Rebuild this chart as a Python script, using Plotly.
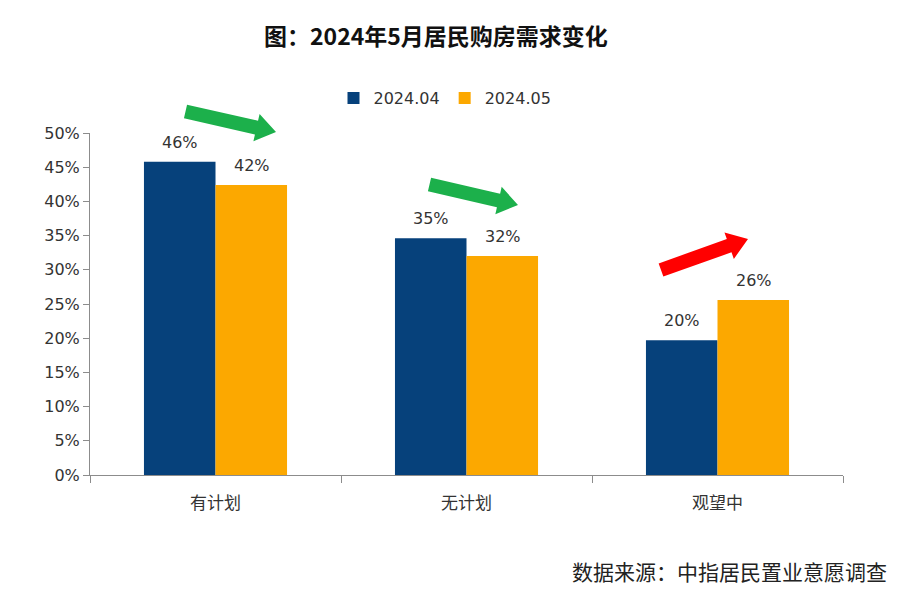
import math
import plotly.graph_objects as go

categories = ["有计划", "无计划", "观望中"]
series_names = ["2024.04", "2024.05"]
values_0404 = [45.8, 34.6, 19.7]
values_0405 = [42.4, 32.0, 25.6]
labels_0404 = ["46%", "35%", "20%"]
labels_0405 = ["42%", "32%", "26%"]
y_ticks = [0, 5, 10, 15, 20, 25, 30, 35, 40, 45, 50]
y_tick_text = ["0%", "5%", "10%", "15%", "20%", "25%", "30%", "35%", "40%", "45%", "50%"]

BLUE = "#06417B"
ORANGE = "#FCA800"
FONT = "Noto Sans CJK SC"
NUMFONT = "DejaVu Sans, Noto Sans CJK SC"

OFF = 8  # page body margin
W, H = 901 - OFF, 594 - OFF
L, T = 90 - OFF, 133 - OFF
PW, PH = 843 - 90, 475 - 133
R = W - L - PW
B = H - T - PH

ann = []
for i, c in enumerate(categories):
    for vals, labs, sh in ((values_0404, labels_0404, -36), (values_0405, labels_0405, 36)):
        ann.append(dict(x=c, y=vals[i], text=labs[i], xref="x", yref="y", showarrow=False,
                        xshift=sh, yshift=8, yanchor="bottom",
                        font=dict(family=NUMFONT, size=16, color="#333333")))


def px2paper(x, y):
    # reference pixel coordinates -> paper coordinates
    return (x - 90) / PW, (475 - y) / PH


def block_arrow(x0, y0, x1, y1, shaft=14, headw=28, headlen=20, color="green"):
    dx, dy = x1 - x0, y1 - y0
    ln = math.hypot(dx, dy)
    ux, uy = dx / ln, dy / ln
    nx, ny = -uy, ux
    bx, by = x1 - ux * headlen, y1 - uy * headlen
    pts = [
        (x0 + nx * shaft / 2, y0 + ny * shaft / 2),
        (bx + nx * shaft / 2, by + ny * shaft / 2),
        (bx + nx * headw / 2, by + ny * headw / 2),
        (x1, y1),
        (bx - nx * headw / 2, by - ny * headw / 2),
        (bx - nx * shaft / 2, by - ny * shaft / 2),
        (x0 - nx * shaft / 2, y0 - ny * shaft / 2),
    ]
    pp = [px2paper(a, b) for a, b in pts]
    path = "M " + " L ".join(f"{a:.5f},{b:.5f}" for a, b in pp) + " Z"
    return dict(type="path", path=path, xref="paper", yref="paper",
                fillcolor=color, line=dict(width=0), layer="above")


shapes = [
    block_arrow(185.5, 111.5, 276, 132, color="#1CB04B"),
    block_arrow(429.5, 184.5, 518, 205, color="#1CB04B"),
    block_arrow(661, 270, 748, 239, color="#FF0000"),
]

tx, ty = px2paper(436, 35)
ann.append(dict(text="图：2024年5月居民购房需求变化", xref="paper", yref="paper",
                x=tx, y=ty, xanchor="center", yanchor="middle", showarrow=False,
                font=dict(family=FONT, size=23, color="#111111", weight="bold")))
sx, sy = px2paper(889, 571)
ann.append(dict(text="数据来源：中指居民置业意愿调查", xref="paper", yref="paper",
                x=sx, y=sy, xanchor="right", yanchor="middle", showarrow=False,
                font=dict(family=FONT, size=21, color="#222222")))

fig = go.Figure()
fig.add_bar(x=categories, y=values_0404, name=series_names[0], marker_color=BLUE,
            marker_line_width=0)
fig.add_bar(x=categories, y=values_0405, name=series_names[1], marker_color=ORANGE,
            marker_line_width=0)

lx, ly = px2paper(445, 98)
fig.update_layout(
    width=W, height=H,
    margin=dict(l=L, r=R, t=T, b=B, pad=0),
    plot_bgcolor="white", paper_bgcolor="white",
    barmode="group", bargap=0.43, bargroupgap=0,
    font=dict(family=FONT, size=16, color="#333333"),
    showlegend=True,
    legend=dict(orientation="h", x=lx, xanchor="center", y=ly, yanchor="middle",
                font=dict(family=NUMFONT, size=16, color="#333333"), itemwidth=30,
                tracegroupgap=0),
    annotations=ann,
    shapes=shapes,
)
fig.update_xaxes(showline=True, linecolor="#8C8C8C", linewidth=1, ticks="outside",
                 tickson="boundaries", ticklen=7, tickcolor="#8C8C8C",
                 ticklabelstandoff=13,
                 tickfont=dict(family=FONT, size=17, color="#333333"), showgrid=False)
fig.update_yaxes(range=[0, 50], tickvals=y_ticks, ticktext=y_tick_text, showline=True,
                 linecolor="#8C8C8C", linewidth=1, ticks="outside", ticklen=6,
                 tickcolor="#8C8C8C", showgrid=False, zeroline=False,
                 tickfont=dict(family=NUMFONT, size=16, color="#333333"))

fig.write_html("out.html")
